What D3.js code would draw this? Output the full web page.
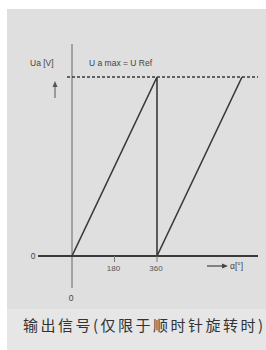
<!DOCTYPE html>
<html>
<head>
<meta charset="utf-8">
<script src="https://cdn.jsdelivr.net/npm/d3@7"></script>
<style>
  body { margin: 0; background: #fff; }
  svg { display: block; }
</style>
</head>
<body>
<div id="chart"></div>
<script>
// sawtooth output signal: angle (deg) vs Ua (fraction of Ua max)
let angles = [0, 360, 360, 720]
let voltages = [0, 1, 0, 1]
let tickValues = [180, 360]
let caption = "输出信号(仅限于顺时针旋转时)"

let width = 266, height = 350

let svg = d3.select("#chart")
  .append("svg")
  .attr("width", width)
  .attr("height", height)

// grey panel behind chart and caption
svg.append("rect")
  .attr("x", 7).attr("y", 9)
  .attr("width", width - 7).attr("height", height - 9)
  .attr("fill", "#e6e6e6")
svg.append("rect")
  .attr("x", 7).attr("y", 9)
  .attr("width", width - 7).attr("height", 300)
  .attr("fill", "#dfdfdf")

let x = d3.scaleLinear().domain([0, 360]).range([72, 157])
let y = d3.scaleLinear().domain([0, 1]).range([256, 77])

let ink = "#3a3a3a"

// y axis line
svg.append("line")
  .attr("x1", x(0)).attr("x2", x(0))
  .attr("y1", 44).attr("y2", 288)
  .attr("stroke", "#666")
  .attr("stroke-width", 1)

// x axis line
svg.append("line")
  .attr("x1", 38).attr("x2", 258)
  .attr("y1", y(0)).attr("y2", y(0))
  .attr("stroke", ink)
  .attr("stroke-width", 2)

// ticks
svg.selectAll(".tick")
  .data(tickValues)
  .enter()
  .append("line")
  .attr("x1", d => x(d)).attr("x2", d => x(d))
  .attr("y1", y(0)).attr("y2", y(0) + 6)
  .attr("stroke", "#777")
  .attr("stroke-width", 1)

svg.selectAll(".ticklabel")
  .data(tickValues)
  .enter()
  .append("text")
  .attr("x", d => x(d) - 1)
  .attr("y", y(0) + 15)
  .attr("text-anchor", "middle")
  .attr("font-family", "Liberation Sans, Arial, sans-serif")
  .attr("font-size", 8)
  .attr("fill", "#555")
  .text(d => d)

// dashed max line
svg.append("line")
  .attr("x1", 67).attr("x2", 258)
  .attr("y1", y(1)).attr("y2", y(1))
  .attr("stroke", ink)
  .attr("stroke-width", 1.5)
  .attr("stroke-dasharray", "3,2")

// sawtooth
let line = d3.line()
  .x((d, i) => x(angles[i]))
  .y(d => y(d))
svg.append("path")
  .attr("d", line(voltages))
  .attr("fill", "none")
  .attr("stroke", ink)
  .attr("stroke-width", 1.6)

let txt = (t, px, py, size, anchor) => svg.append("text")
  .attr("x", px).attr("y", py)
  .attr("text-anchor", anchor || "start")
  .attr("font-family", "Liberation Sans, Arial, sans-serif")
  .attr("font-size", size)
  .attr("fill", "#444")
  .text(t)

txt("Ua [V]", 30, 66, 8.5)
txt("U a max = U Ref", 89, 66, 8.5)
txt("0", 33, 259, 8.5, "middle")
txt("0", x(0) - 1, 301, 8.5, "middle")
txt("α[°]", 230, 269, 8.5)

// up arrow next to Ua
svg.append("line")
  .attr("x1", 55).attr("x2", 55)
  .attr("y1", 98).attr("y2", 84)
  .attr("stroke", "#555").attr("stroke-width", 1)
svg.append("path")
  .attr("d", "M52.5,87 L55,81 L57.5,87 Z")
  .attr("fill", "#555")

// right arrow before alpha
svg.append("line")
  .attr("x1", 207).attr("x2", 224)
  .attr("y1", 266).attr("y2", 266)
  .attr("stroke", "#444").attr("stroke-width", 1.2)
svg.append("path")
  .attr("d", "M222,263.5 L228,266 L222,268.5 Z")
  .attr("fill", "#444")

// caption
svg.append("text")
  .attr("x", 23)
  .attr("y", 331)
  .attr("textLength", 240)
  .attr("font-family", "Noto Sans CJK SC")
  .attr("font-size", 15)
  .attr("fill", "#333")
  .text(caption)
</script>
</body>
</html>
